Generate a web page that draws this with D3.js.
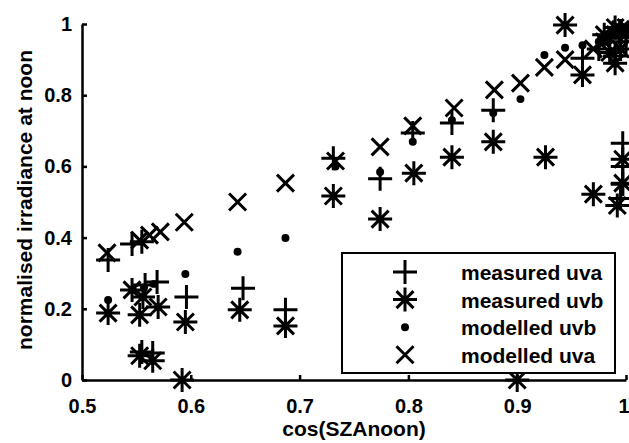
<!DOCTYPE html>
<html>
<head>
<meta charset="utf-8">
<script src="https://cdnjs.cloudflare.com/ajax/libs/d3/7.8.5/d3.min.js"></script>
<style>
  body { margin: 0; background: white; }
  svg text { font-family: "Liberation Sans", Arial, Helvetica, sans-serif; font-weight: bold; fill: black; }
</style>
</head>
<body>
<script>

// measured / modelled points: [cos(SZAnoon), normalised irradiance]
var measuredUva = [[0.524, 0.337], [0.546, 0.382], [0.555, 0.388], [0.558, 0.267], [0.569, 0.275],
  [0.596, 0.233], [0.648, 0.258], [0.555, 0.079], [0.565, 0.076], [0.687, 0.197], [0.731, 0.623],
  [0.774, 0.565], [0.804, 0.694], [0.840, 0.722], [0.878, 0.758], [0.960, 0.904], [0.975, 0.93],
  [0.985, 0.96], [0.990, 0.91], [0.995, 0.98], [1.0, 0.95], [0.997, 0.665], [0.997, 0.60],
  [0.997, 0.55], [0.995, 0.51]];

var measuredUvb = [[0.524, 0.188], [0.546, 0.253], [0.556, 0.233], [0.553, 0.183], [0.570, 0.205],
  [0.595, 0.163], [0.645, 0.197], [0.553, 0.068], [0.565, 0.054], [0.592, 0.0], [0.687, 0.152],
  [0.731, 0.517], [0.774, 0.452], [0.805, 0.581], [0.840, 0.626], [0.878, 0.669], [0.900, 0.0],
  [0.926, 0.626], [0.944, 0.997], [0.960, 0.857], [0.970, 0.522], [0.992, 0.49], [0.997, 0.62],
  [0.997, 0.553], [0.980, 0.97], [0.990, 0.99], [0.995, 0.93], [1.0, 0.97], [0.990, 0.89], [0.985, 0.92]];

var modelledUvb = [[0.524, 0.225], [0.557, 0.26], [0.566, 0.27], [0.595, 0.298], [0.643, 0.36],
  [0.687, 0.399], [0.733, 0.60], [0.774, 0.584], [0.804, 0.669], [0.840, 0.73], [0.878, 0.75],
  [0.903, 0.789], [0.925, 0.913], [0.944, 0.933], [0.960, 0.94], [0.975, 0.95], [0.990, 0.97], [1.0, 0.99]];

var modelledUva = [[0.523, 0.357], [0.553, 0.393], [0.562, 0.407], [0.572, 0.416], [0.594, 0.443],
  [0.643, 0.50], [0.687, 0.553], [0.733, 0.615], [0.774, 0.655], [0.804, 0.714], [0.842, 0.764],
  [0.879, 0.815], [0.903, 0.834], [0.925, 0.878], [0.944, 0.90], [0.970, 0.93], [0.980, 0.95],
  [0.990, 0.97], [0.995, 0.985], [1.0, 0.99]];

var seriesNames = ["measured uva", "measured uvb", "modelled uvb", "modelled uva"];
var seriesMarkers = ["plus", "star", "dot", "cross"];
var xTicks = [0.5, 0.6, 0.7, 0.8, 0.9, 1];
var yTicks = [0, 0.2, 0.4, 0.6, 0.8, 1];

var w = 629;
var h = 443;

var svg = d3.select("body")
            .append("svg")
            .attr("width", w)
            .attr("height", h);

var xScale = d3.scaleLinear()
               .domain([0.5, 1])
               .range([82, 626]);

var yScale = d3.scaleLinear()
               .domain([0, 1])
               .range([380, 24]);

function tickText(d) {
  return (d == 0 || d == 1) ? String(d) : d3.format(".1f")(d);
}

// x-axis, ticks pointing inwards like matlab
var xAxis = svg.append("g")
   .attr("transform", "translate(0, 380)")
   .call(d3.axisBottom(xScale).tickValues(xTicks).tickFormat(tickText)
           .tickSizeInner(-5).tickSizeOuter(0).tickPadding(19));

// y-axis
var yAxis = svg.append("g")
   .attr("transform", "translate(82, 0)")
   .call(d3.axisLeft(yScale).tickValues(yTicks).tickFormat(tickText)
           .tickSizeInner(-5).tickSizeOuter(0).tickPadding(10));

[xAxis, yAxis].forEach(function(ax) {
  ax.select(".domain").attr("stroke", "black").attr("stroke-width", 2.5);
  ax.selectAll(".tick line").attr("stroke", "black").attr("stroke-width", 2.5);
  ax.selectAll(".tick text").style("font-size", "20px").attr("fill", "black");
});

// last x label sits against the right edge of the figure
xAxis.selectAll(".tick text")
   .filter(function(d) { return d == 1; })
   .attr("text-anchor", "end")
   .attr("x", 3);

// axis labels
svg.append("text")
   .attr("x", 354)
   .attr("y", 436)
   .style("text-anchor", "middle")
   .style("font-size", "21px")
   .text("cos(SZAnoon)");

svg.append("text")
   .attr("transform", "translate(32, 200) rotate(-90)")
   .style("text-anchor", "middle")
   .style("font-size", "21px")
   .text("normalised irradiance at noon");

// marker shapes
function markerPath(type) {
  if (type == "plus") {
    return "M-12,0H12M0,-12V12";
  } else if (type == "star") {
    return "M-12,0H12M0,-12V12M-8.5,-8.5L8.5,8.5M-8.5,8.5L8.5,-8.5";
  } else if (type == "cross") {
    return "M-8.5,-8.5L8.5,8.5M-8.5,8.5L8.5,-8.5";
  }
  return d3.symbol().type(d3.symbolCircle).size(50)();
}

function drawMarkers(data, type) {
  svg.append("g")
     .selectAll("path")
     .data(data)
     .join("path")
     .attr("transform", function(d) {
       return "translate(" + xScale(d[0]) + "," + yScale(d[1]) + ")";
     })
     .attr("d", markerPath(type))
     .attr("fill", type == "dot" ? "black" : "none")
     .attr("stroke", "black")
     .attr("stroke-width", type == "dot" ? 0 : 3);
}

var allSeries = [measuredUva, measuredUvb, modelledUvb, modelledUva];
allSeries.forEach(function(s, i) {
  drawMarkers(s, seriesMarkers[i]);
});

// legend
var legend = svg.append("g");

legend.append("rect")
   .attr("x", 342)
   .attr("y", 253)
   .attr("width", 273)
   .attr("height", 120)
   .attr("fill", "white")
   .attr("stroke", "black")
   .attr("stroke-width", 2);

var rows = legend.selectAll(".leg_row")
   .data(seriesNames)
   .join("g")
   .attr("class", "leg_row")
   .attr("transform", function(d, i) {
     return "translate(0," + (272 + i * 27.6) + ")";
   });

rows.append("path")
   .attr("transform", "translate(405, 0)")
   .attr("d", function(d, i) { return markerPath(seriesMarkers[i]); })
   .attr("fill", function(d, i) { return seriesMarkers[i] == "dot" ? "black" : "none"; })
   .attr("stroke", "black")
   .attr("stroke-width", function(d, i) { return seriesMarkers[i] == "dot" ? 0 : 3; });

rows.append("text")
   .attr("x", 461)
   .attr("y", 8)
   .style("font-size", "21px")
   .text(function(d) { return d; });

</script>
</body>
</html>
